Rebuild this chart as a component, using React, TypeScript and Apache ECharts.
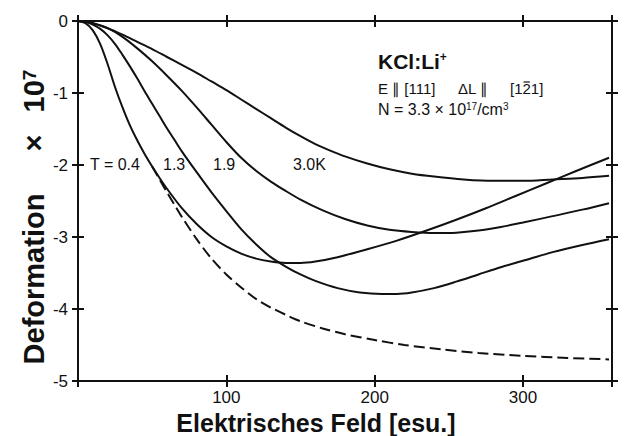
import React, { useEffect, useRef } from 'react';
import * as echarts from 'echarts';

// ---- data ----
const xT04 = [0, 5, 10, 15, 20, 25, 30, 35, 40, 45, 50, 55, 60, 70, 80, 90, 100, 110, 120, 130, 140, 150, 160, 175, 195, 215, 235, 255, 275, 295, 315, 335, 358];
const yT04 = [0, -0.03, -0.13, -0.32, -0.6, -0.92, -1.2, -1.45, -1.66, -1.85, -2.02, -2.18, -2.33, -2.6, -2.82, -3.0, -3.13, -3.23, -3.3, -3.34, -3.36, -3.36, -3.34, -3.28, -3.17, -3.05, -2.91, -2.76, -2.6, -2.43, -2.26, -2.09, -1.9];

const xT13 = [0, 5, 10, 15, 20, 25, 30, 35, 40, 45, 50, 55, 60, 65, 70, 80, 90, 100, 110, 120, 130, 140, 150, 160, 175, 190, 205, 215, 225, 240, 255, 270, 285, 300, 320, 340, 358];
const yT13 = [0, -0.01, -0.05, -0.11, -0.2, -0.32, -0.47, -0.63, -0.8, -0.98, -1.15, -1.32, -1.49, -1.65, -1.81, -2.1, -2.38, -2.64, -2.89, -3.1, -3.28, -3.41, -3.52, -3.61, -3.71, -3.77, -3.79, -3.79, -3.77, -3.71, -3.62, -3.52, -3.42, -3.33, -3.21, -3.11, -3.03];

const xT19 = [0, 10, 20, 30, 40, 50, 60, 70, 80, 90, 100, 110, 120, 130, 140, 150, 165, 180, 195, 210, 225, 240, 255, 270, 285, 300, 320, 340, 358];
const yT19 = [0, -0.03, -0.1, -0.22, -0.38, -0.56, -0.76, -0.97, -1.2, -1.44, -1.68, -1.9, -2.08, -2.23, -2.36, -2.48, -2.63, -2.75, -2.84, -2.9, -2.93, -2.945, -2.94, -2.91, -2.86, -2.8, -2.71, -2.62, -2.53];

const xT30 = [0, 10, 20, 30, 40, 50, 60, 70, 80, 90, 100, 110, 120, 130, 140, 150, 160, 170, 180, 195, 210, 225, 240, 260, 280, 300, 320, 340, 358];
const yT30 = [0, -0.03, -0.1, -0.19, -0.29, -0.39, -0.5, -0.61, -0.72, -0.84, -0.96, -1.09, -1.22, -1.35, -1.48, -1.6, -1.71, -1.8, -1.88, -1.98, -2.06, -2.12, -2.16, -2.2, -2.22, -2.22, -2.2, -2.18, -2.15];

const xDash = [50, 55, 60, 65, 70, 80, 90, 100, 110, 120, 130, 140, 150, 165, 180, 200, 220, 245, 270, 300, 330, 358];
const yDash = [-2.02, -2.2, -2.38, -2.55, -2.72, -3.03, -3.3, -3.52, -3.7, -3.86, -3.98, -4.08, -4.17, -4.27, -4.35, -4.43, -4.5, -4.56, -4.61, -4.65, -4.68, -4.7];

const xTickValues = [0, 100, 200, 300, 360];
const xLabelValues = [100, 200, 300];
const yMin = -5;
const yMax = 0;
const xMin = 0;
const xMax = 360;

const curveLabels = ['T = 0.4', '1.3', '1.9', '3.0K'];
const xTitle = 'Elektrisches Feld [esu.]';
const yTitleParts = ['Deformation', '\u00d7', '10{sup|7}'];
const noteTitle = 'KCl:Li{sup|+}';
const noteLine2a = 'E \u2225 [111]';
const noteLine2b = '\u0394L \u2225';
const noteLine2c = '[121]';
const noteLine3 = 'N = 3.3 \u00d7 10{sup|17}/cm{sup|3}';

const FONT = '"Liberation Sans", Arial, Helvetica, sans-serif';
const INK = '#111';

function pairs(xs: number[], ys: number[]) {
  return xs.map((x, i) => [x, ys[i]]);
}

function measure(text: string, font: string): number {
  const c = document.createElement('canvas').getContext('2d');
  if (!c) return text.length * 8;
  c.font = font;
  return c.measureText(text).width;
}

function xAx(position: 'top' | 'bottom', inside: boolean, labels: boolean) {
  return {
    type: 'value',
    position,
    min: xMin,
    max: xMax,
    interval: 100,
    axisLine: { show: true, onZero: false, lineStyle: { color: INK, width: 2 } },
    axisTick: {
      show: true,
      inside,
      length: 6,
      customValues: xTickValues,
      lineStyle: { color: INK, width: 2 },
    },
    axisLabel: labels
      ? { show: true, customValues: xLabelValues, color: INK, fontSize: 17, fontFamily: FONT, margin: 8 }
      : { show: false },
    splitLine: { show: false },
  };
}

function yAx(position: 'left' | 'right', inside: boolean, labels: boolean) {
  return {
    type: 'value',
    position,
    min: yMin,
    max: yMax,
    interval: 1,
    axisLine: { show: true, onZero: false, lineStyle: { color: INK, width: 2 } },
    axisTick: { show: true, inside, length: 6, lineStyle: { color: INK, width: 2 } },
    axisLabel: labels
      ? { show: true, color: INK, fontSize: 17, fontFamily: FONT, margin: 10 }
      : { show: false },
    splitLine: { show: false },
  };
}

function lineSeries(xs: number[], ys: number[], dashed = false) {
  return {
    type: 'line',
    xAxisIndex: 0,
    yAxisIndex: 0,
    data: pairs(xs, ys),
    showSymbol: false,
    symbol: 'none',
    smooth: 0.3,
    silent: true,
    lineStyle: { color: INK, width: 2, type: dashed ? [11, 5] : 'solid' },
  };
}

function rotText(text: string, y: number, rich?: any) {
  return {
    type: 'text',
    x: 34,
    y,
    rotation: Math.PI / 2,
    style: {
      text,
      font: `bold 29px ${FONT}`,
      fill: INK,
      align: 'center',
      verticalAlign: 'middle',
      textAlign: 'center',
      textVerticalAlign: 'middle',
      rich,
    },
  };
}

export default function App() {
  const ref = useRef<HTMLDivElement>(null);

  useEffect(() => {
    if (!ref.current) return;
    const chart = echarts.init(ref.current, undefined, { renderer: 'svg' });
    const labelX = [90, 163, 213, 293];
    const f15 = `15px ${FONT}`;
    const l2cLeft = 510;
    const barX0 = l2cLeft + measure('[1', f15);
    const barX1 = l2cLeft + measure('[12', f15);
    chart.setOption({
      animation: false,
      backgroundColor: '#fff',
      grid: { left: 78, top: 21, width: 534, height: 360, containLabel: false },
      xAxis: [xAx('bottom', false, true), xAx('bottom', true, false), xAx('top', false, false), xAx('top', true, false)],
      yAxis: [yAx('left', false, true), yAx('left', true, false), yAx('right', false, false), yAx('right', true, false)],
      series: [
        lineSeries(xT04, yT04),
        lineSeries(xT13, yT13),
        lineSeries(xT19, yT19),
        lineSeries(xT30, yT30),
        lineSeries(xDash, yDash, true),
      ],
      graphic: [
        ...curveLabels.map((t, i) => ({
          type: 'text',
          left: labelX[i],
          top: 156,
          style: { text: t, font: `16px ${FONT}`, fill: INK },
        })),
        {
          type: 'text',
          x: 316,
          y: 423,
          style: {
            text: xTitle,
            font: `bold 25px ${FONT}`,
            fill: INK,
            align: 'center',
            verticalAlign: 'middle',
            textAlign: 'center',
            textVerticalAlign: 'middle',
          },
        },
        rotText(yTitleParts[0], 279),
        rotText(yTitleParts[1], 143),
        rotText(yTitleParts[2], 91, {
          sup: { font: `bold 19px ${FONT}`, fill: INK, verticalAlign: 'top' },
        }),
        {
          type: 'text',
          left: 378,
          top: 51,
          style: {
            text: noteTitle,
            font: `bold 21px ${FONT}`,
            fill: INK,
            rich: { sup: { font: `bold 12px ${FONT}`, fill: INK, verticalAlign: 'top' } },
          },
        },
        { type: 'text', left: 378, top: 81, style: { text: noteLine2a, font: f15, fill: INK } },
        { type: 'text', left: 458, top: 81, style: { text: noteLine2b, font: f15, fill: INK } },
        { type: 'text', left: l2cLeft, top: 81, style: { text: noteLine2c, font: f15, fill: INK } },
        {
          type: 'line',
          shape: { x1: barX0 + 1, y1: 82, x2: barX1 - 1, y2: 82 },
          style: { stroke: INK, lineWidth: 1.2 },
        },
        {
          type: 'text',
          left: 378,
          top: 101,
          style: {
            text: noteLine3,
            font: `16px ${FONT}`,
            fill: INK,
            rich: { sup: { font: `10px ${FONT}`, fill: INK, verticalAlign: 'top' } },
          },
        },
      ],
    });
    return () => chart.dispose();
  }, []);

  return (
    <div
      ref={ref}
      style={{ position: 'fixed', left: 0, top: 0, width: 630, height: 436, background: '#fff' }}
    />
  );
}
